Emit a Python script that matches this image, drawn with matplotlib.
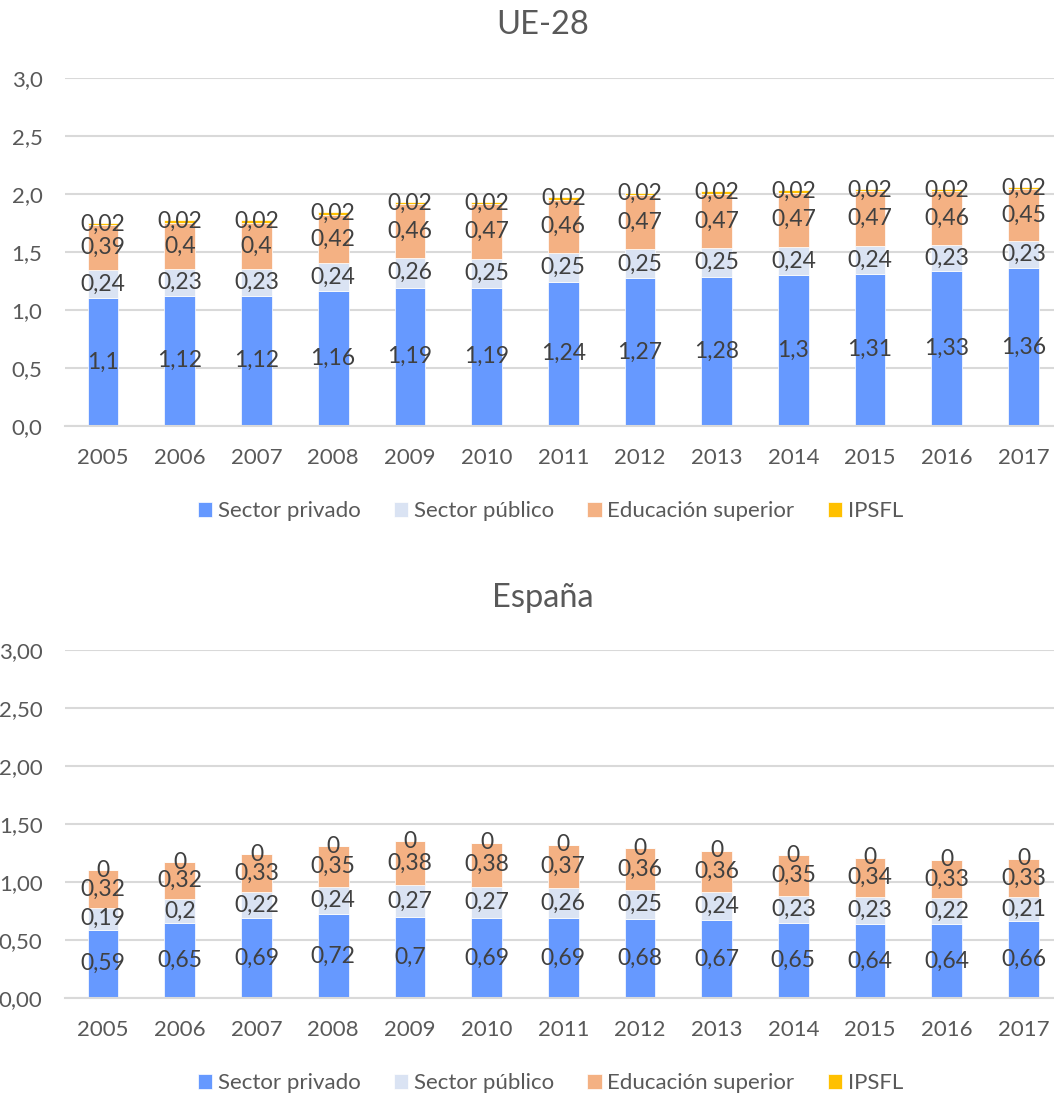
import matplotlib
matplotlib.use("Agg")
import matplotlib.pyplot as plt
import numpy as np
from matplotlib.ticker import FuncFormatter

plt.rcParams["font.family"] = ["Lato", "DejaVu Sans"]

years = ["2005", "2006", "2007", "2008", "2009", "2010", "2011",
         "2012", "2013", "2014", "2015", "2016", "2017"]

series_names = ["Sector privado", "Sector público", "Educación superior", "IPSFL"]
colors = ["#6699FF", "#DAE3F3", "#F4B183", "#FFC000"]

# UE-28
ue_privado = [1.1, 1.12, 1.12, 1.16, 1.19, 1.19, 1.24, 1.27, 1.28, 1.3, 1.31, 1.33, 1.36]
ue_publico = [0.24, 0.23, 0.23, 0.24, 0.26, 0.25, 0.25, 0.25, 0.25, 0.24, 0.24, 0.23, 0.23]
ue_educ = [0.39, 0.4, 0.4, 0.42, 0.46, 0.47, 0.46, 0.47, 0.47, 0.47, 0.47, 0.46, 0.45]
ue_ipsfl = [0.02] * 13

# España
es_privado = [0.59, 0.65, 0.69, 0.72, 0.7, 0.69, 0.69, 0.68, 0.67, 0.65, 0.64, 0.64, 0.66]
es_publico = [0.19, 0.2, 0.22, 0.24, 0.27, 0.27, 0.26, 0.25, 0.24, 0.23, 0.23, 0.22, 0.21]
es_educ = [0.32, 0.32, 0.33, 0.35, 0.38, 0.38, 0.37, 0.36, 0.36, 0.35, 0.34, 0.33, 0.33]
es_ipsfl = [0] * 13

TICK_COLOR = "#595959"
LABEL_COLOR = "#404040"
GRID_COLOR = "#D9D9D9"


def fmt_label(v):
    s = f"{v:.2f}".rstrip("0").rstrip(".")
    if s == "":
        s = "0"
    return s.replace(".", ",")


def draw_panel(ax, data, decimals):
    x = np.arange(len(years))
    bottom = np.zeros(len(years))
    for vals, name, col in zip(data, series_names, colors):
        vals = np.array(vals, dtype=float)
        ax.bar(x, vals, 0.4, bottom=bottom, color=col, label=name,
               edgecolor="white", linewidth=0.5, zorder=2)
        for xi, b, v in zip(x, bottom, vals):
            ax.text(xi, b + v / 2, fmt_label(v), ha="center", va="center",
                    fontsize=16.5, color=LABEL_COLOR, zorder=3)
        bottom += vals

    ax.set_xlim(-0.5, len(years) - 0.5)
    ax.set_ylim(0, 3.0)
    ax.set_yticks(np.arange(0, 3.01, 0.5))
    ax.yaxis.set_major_formatter(FuncFormatter(
        lambda v, _: f"{v:.{decimals}f}".replace(".", ",")))
    ax.set_xticks(x)
    ax.set_xticklabels(years)
    ax.tick_params(axis="both", length=0, labelsize=16, colors=TICK_COLOR)
    ax.tick_params(axis="x", pad=16)
    ax.tick_params(axis="y", pad=16)
    ax.grid(axis="y", color=GRID_COLOR, linewidth=1.5, zorder=0)
    for side in ["top", "right", "left"]:
        ax.spines[side].set_visible(False)
    ax.spines["bottom"].set_color(GRID_COLOR)
    ax.spines["bottom"].set_linewidth(1.5)
    ax.legend(loc="center", bbox_to_anchor=(0.487, -0.245), ncol=4, frameon=False,
              fontsize=16, handlelength=0.65, handleheight=0.65, handletextpad=0.25,
              columnspacing=1.5, labelcolor=TICK_COLOR)


fig = plt.figure(figsize=(10.54, 10.95), dpi=100)
ax1 = fig.add_axes([0.0614, 0.6112, 0.946, 0.3178])
ax2 = fig.add_axes([0.0614, 0.0886, 0.946, 0.3178])

draw_panel(ax1, [ue_privado, ue_publico, ue_educ, ue_ipsfl], 1)
draw_panel(ax2, [es_privado, es_publico, es_educ, es_ipsfl], 2)

fig.text(543 / 1054, 1 - 25 / 1095, "UE-28", ha="center", va="center",
         fontsize=23.5, color=TICK_COLOR)
fig.text(543 / 1054, 1 - 598 / 1095, "España", ha="center", va="center",
         fontsize=23.5, color=TICK_COLOR)

fig.savefig("out.png", dpi=100, facecolor="white")
